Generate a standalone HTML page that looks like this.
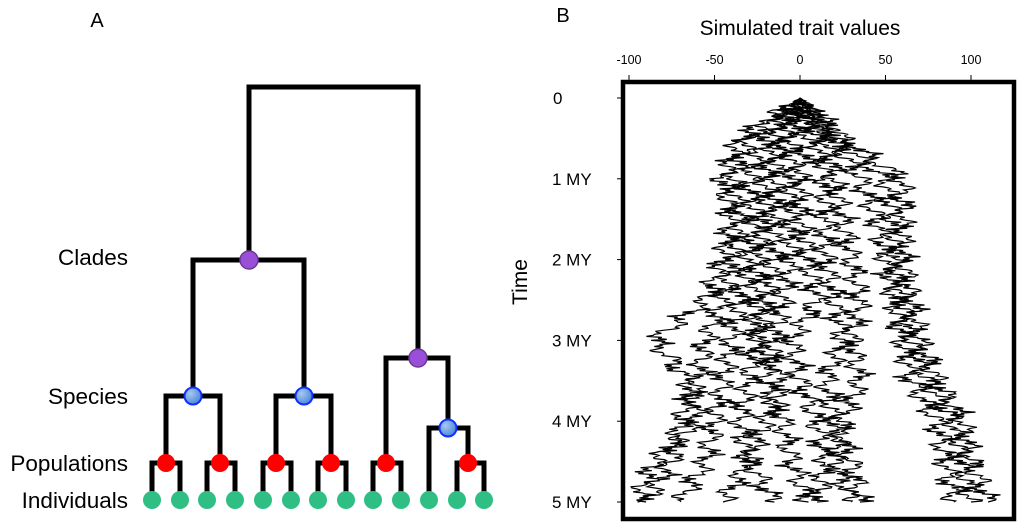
<!DOCTYPE html>
<html><head><meta charset="utf-8"><style>
body{margin:0;background:#fff;}
svg{display:block;font-family:"Liberation Sans",sans-serif;}
</style></head><body>
<svg id="fig" width="1024" height="528" viewBox="0 0 1024 528">
<defs><radialGradient id="bg" cx="35%" cy="35%" r="70%"><stop offset="0" stop-color="#a8c8f0"/><stop offset="1" stop-color="#4a86d8"/></radialGradient></defs>
<g id="panelA">
<text x="97" y="27" font-size="20" text-anchor="middle">A</text>
<text x="128" y="265" font-size="22.5" text-anchor="end">Clades</text>
<text x="128" y="404" font-size="22.5" text-anchor="end">Species</text>
<text x="128" y="471" font-size="22.5" text-anchor="end">Populations</text>
<text x="128" y="508" font-size="22.5" text-anchor="end">Individuals</text>
<g stroke="#000" stroke-width="5" fill="none" stroke-linejoin="miter">
<path d="M249,260 V87 H418 V358"/>
<path d="M193,396 V260 H304 V396"/>
<path d="M166,463 V396 H220 V463"/>
<path d="M276,463 V396 H331 V463"/>
<path d="M386,463 V358 H448 V428"/>
<path d="M429,500 V428 H468 V463"/>
<path d="M152,500 V463 H180 V500 M207,500 V463 H235 V500 M263,500 V463 H291 V500 M318,500 V463 H346 V500 M373,500 V463 H401 V500 M457,500 V463 H484 V500"/>
</g>
<g fill="#2fbf85">
<circle cx="152" cy="500" r="9"/><circle cx="180" cy="500" r="9"/><circle cx="207" cy="500" r="9"/><circle cx="235" cy="500" r="9"/><circle cx="263" cy="500" r="9"/><circle cx="291" cy="500" r="9"/><circle cx="318" cy="500" r="9"/><circle cx="346" cy="500" r="9"/><circle cx="373" cy="500" r="9"/><circle cx="401" cy="500" r="9"/><circle cx="429" cy="500" r="9"/><circle cx="457" cy="500" r="9"/><circle cx="484" cy="500" r="9"/>
</g>
<g fill="#ff0000">
<circle cx="166" cy="463" r="9"/><circle cx="220" cy="463" r="9"/><circle cx="276" cy="463" r="9"/><circle cx="331" cy="463" r="9"/><circle cx="386" cy="463" r="9"/><circle cx="468" cy="463" r="9"/>
</g>
<g fill="url(#bg)" stroke="#1030ff" stroke-width="2">
<circle cx="193" cy="396" r="8.5"/><circle cx="304" cy="396" r="8.5"/><circle cx="448" cy="428" r="8.5"/>
</g>
<g fill="#9a4fd8" stroke="#6a3a90" stroke-width="1.5">
<circle cx="249" cy="260" r="9"/><circle cx="418" cy="358" r="9"/>
</g>
</g>
<g id="panelB">
<text x="563" y="22" font-size="20" text-anchor="middle">B</text>
<text x="800" y="35" font-size="21" text-anchor="middle">Simulated trait values</text>
<text transform="translate(527,282) rotate(-90)" font-size="21" text-anchor="middle">Time</text>
<g id="xticks"></g>
<g id="yticks"></g>
<g id="lines"></g>
<rect x="623" y="82" width="391" height="437" fill="none" stroke="#000" stroke-width="4.5"/>
</g>
</svg>
<script>
const xTicks=[-100,-50,0,50,100];
const yTicks=[0,1,2,3,4,5];
const yTickLabels=["0","1 MY","2 MY","3 MY","4 MY","5 MY"];
const times=[0,0.5,1,1.5,2,2.5,3,3.5,4,4.5,5];
const lineage1=[0,-35,-45,-40,-45,-55,-85,-65,-60,-85,-95];
const lineage2=[0,-30,-40,-35,-40,-45,-55,-60,-70,-75,-90];
const lineage3=[0,-20,-30,-25,-30,-35,-40,-45,-50,-55,-70];
const lineage4=[0,-15,-20,-20,-25,-25,-25,-30,-35,-30,-45];
const lineage5=[0,-10,-15,-15,-15,-20,-25,-10,-20,-30,-15];
const lineage6=[0,-5,-5,-5,-5,-10,-15,-20,-10,-5,5];
const lineage7=[0,5,0,0,5,10,-5,0,10,15,10];
const lineage8=[0,10,15,15,15,20,25,15,20,30,35];
const lineage9=[0,15,20,25,30,35,30,35,25,20,30];
const lineage10=[0,20,35,45,50,55,60,65,80,85,90];
const lineage11=[0,20,50,55,55,60,65,75,90,95,100];
const lineage12=[0,25,60,60,60,65,70,80,95,100,110];
const lineages=[lineage1,lineage2,lineage3,lineage4,lineage5,lineage6,lineage7,lineage8,lineage9,lineage10,lineage11,lineage12];
const NS="http://www.w3.org/2000/svg";
const xs=v=>800+v*1.71;
const ys=t=>98+t*80.8;
const xg=document.getElementById('xticks'),yg=document.getElementById('yticks'),lg=document.getElementById('lines');
xTicks.forEach(v=>{
 const l=document.createElementNS(NS,'line');
 l.setAttribute('x1',xs(v));l.setAttribute('x2',xs(v));l.setAttribute('y1',75);l.setAttribute('y2',82);l.setAttribute('stroke','#000');
 
 
 xg.appendChild(l);
 const t=document.createElementNS(NS,'text');
 t.setAttribute('x',xs(v));t.setAttribute('y',64);t.setAttribute('font-size','12.5');t.setAttribute('text-anchor','middle');
 t.textContent=v;
 
 
 xg.appendChild(t);
});
yTicks.forEach((v,i)=>{
 const l=document.createElementNS(NS,'line');
 l.setAttribute('x1',617);l.setAttribute('x2',623);l.setAttribute('y1',ys(v));l.setAttribute('y2',ys(v));l.setAttribute('stroke','#000');
 
 
 yg.appendChild(l);
 const t=document.createElementNS(NS,'text');
 t.setAttribute('x',v===0?553:552);t.setAttribute('y',ys(v)+6);t.setAttribute('font-size','17');
 t.textContent=yTickLabels[i];
 
 
 yg.appendChild(t);
});
lineages.forEach((arr,li)=>{
 let d='';const sub=40;
 for(let i=0;i<arr.length-1;i++){
  for(let k=0;k<sub;k++){
   const f=k/sub,t=times[i]+(times[i+1]-times[i])*f;
   const n=i*sub+k;
   const base=arr[i]+(arr[i+1]-arr[i])*f;
   const w=(n%2?1:-1)*1.3+5*Math.sin(n*0.37+li*1.7)+3*Math.sin(n*1.3+li*0.5)+2*Math.sin(n*2.9+li);
   d+=(d?'L':'M')+xs(base+w*Math.min(1,t*6)).toFixed(1)+','+ys(t).toFixed(1);
  }
 }
 d+='L'+xs(arr[arr.length-1]).toFixed(1)+','+ys(5).toFixed(1);
 const p=document.createElementNS(NS,'path');
 p.setAttribute('d',d);p.setAttribute('fill','none');p.setAttribute('stroke','#000');p.setAttribute('stroke-width','1.2');
 
 
 lg.appendChild(p);
});
</script>
</body></html>
